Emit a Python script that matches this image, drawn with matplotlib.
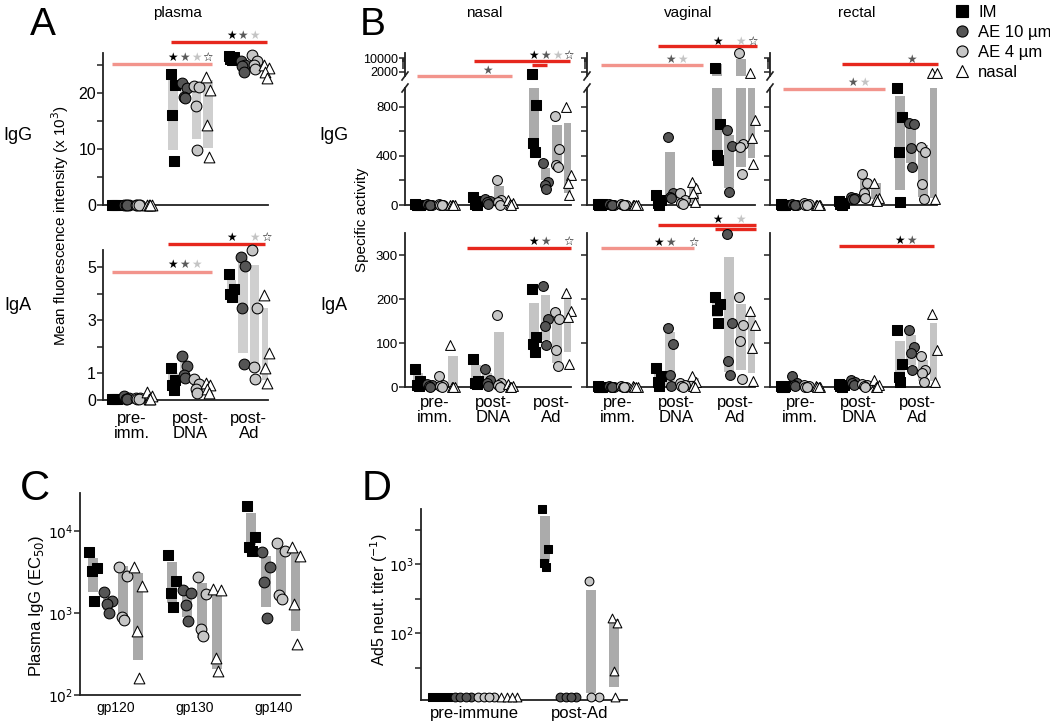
import numpy as np
import matplotlib.pyplot as plt
from matplotlib.patches import Rectangle
from matplotlib.lines import Line2D
from matplotlib.ticker import FixedLocator, NullFormatter

plt.rcParams['font.family'] = ['Liberation Sans', 'DejaVu Sans']

W, H = 1050, 727

# groups (same order in every panel)
groups = ['IM', 'AE 10 µm', 'AE 4 µm', 'nasal']
times = ['pre-\nimm.', 'post-\nDNA', 'post-\nAd']
antigens = ['gp120', 'gp130', 'gp140']
d_times = ['pre-immune', 'post-Ad']

# *_pts: one row per time point, one list of animals per group
# *_bars: (low, high) of the grey bar, None = no bar
# *_sig: (x from, x to, y, kind, time of stars, groups with star, star y)

# ---- A: plasma, mean fluorescence intensity (x 10^3)
a_igg_pts = [
    [[0, 0, 0, 0], [0, 0, 0, 0], [0, 0, 0, 0], [0, 0, 0, 0]],
    [[23.4, 21.4, 16.1, 7.9], [21.8, 20.8, 19.3, 19.0], [21.2, 21.0, 17.7, 9.8], [22.8, 20.5, 14.3, 8.6]],
    [[26.6, 26.3, 26.1, 25.9], [25.6, 25.0, 24.7, 23.8], [26.8, 25.6, 25.0, 24.2], [25.0, 24.4, 23.8, 22.6]],
]
a_igg_bars = [
    [None, None, None, None],
    [(9.8, 22.3), (18.6, 22.0), (11.8, 21.2), (10.2, 22.3)],
    [(25.6, 26.5), (24.2, 25.5), (24.3, 26.3), (23.2, 25.0)],
]
a_igg_sig = [(-0.34, 1.37, 25.2, 'pre', 1, [0, 1, 2, 3], 26.3),
             (0.67, 2.32, 29.1, 'post', 2, [0, 1, 2], 30.3)]

a_iga_pts = [
    [[0.05, 0.05, 0.04, 0.03], [0.15, 0.08, 0.05, 0.03], [0.08, 0.06, 0.05, 0.04], [0.3, 0.15, 0.05, 0.02]],
    [[1.19, 0.75, 0.56, 0.38], [1.65, 1.28, 0.95, 0.82], [0.78, 0.62, 0.40, 0.28], [0.65, 0.58, 0.40, 0.28]],
    [[4.74, 4.16, 3.97, 3.88], [5.36, 5.04, 3.45, 1.34], [5.64, 3.45, 1.25, 0.79], [3.95, 1.78, 1.22, 0.65]],
]
a_iga_bars = [
    [None, None, None, None],
    [(0.5, 1.0), (0.93, 1.47), (0.35, 0.75), (0.35, 0.65)],
    [(3.9, 4.5), (1.77, 5.3), (1.13, 5.07), (0.75, 3.45)],
]
a_iga_sig = [(-0.34, 1.37, 4.83, 'pre', 1, [0, 1, 2], 5.1),
             (0.62, 2.27, 5.88, 'post', 2, [0, 2, 3], 6.12)]

# ---- B: specific activity, IgG
b_nasal_igg_pts = [
    [[8, 4, 2, 0], [5, 3, 2, 0], [6, 4, 2, 0], [3, 1, 0, 0]],
    [[65, 32, 12, 0], [45, 30, 22, 8], [204, 42, 28, 2], [42, 18, 5, 0]],
    [[1600, 816, 503, 435], [340, 190, 165, 128], [727, 455, 327, 310], [803, 245, 182, 82]],
]
b_nasal_igg_bars = [
    [None, None, None, None],
    [(5, 50), (10, 45), (16, 155), None],
    [(530, 960), (205, 300), (320, 655), (100, 667)],
]
b_nasal_igg_sig = [(-0.31, 1.33, 1050, 'pre', 1, [1], 1100),
                   (0.67, 2.33, 1178, 'post', 2, [0, 1, 2, 3], 1224),
                   (1.66, 1.93, 1143, 'post', None, [], None)]

b_vaginal_igg_pts = [
    [[10, 5, 2, 0], [5, 3, 1, 0], [5, 3, 1, 0], [3, 1, 0, 0]],
    [[80, 40, 15, 0], [557, 95, 68, 55], [95, 41, 16, 5], [190, 136, 95, 27]],
    [[3300, 659, 408, 367], [612, 482, 109], [17000, 498, 471, 253], [1850, 694, 544, 332]],
]
b_vaginal_igg_bars = [
    [None, None, None, None],
    [(5, 60), (40, 435), (10, 70), (15, 163)],
    [(381, 5000), (136, 571), (313, 8600), (381, 955)],
]
b_vaginal_igg_sig = [(-0.29, 1.45, 1143, 'pre', 1, [1, 2], 1184),
                     (0.69, 2.38, 1300, 'post', 2, [0, 2, 3], 1339)]

b_rectal_igg_pts = [
    [[8, 4, 2, 0], [5, 3, 2, 0], [15, 5, 2, 0], [2, 0, 0, 0]],
    [[30, 15, 5, 0], [62, 55, 50, 45], [253, 182, 95, 54], [177, 54, 46, 30]],
    [[958, 721, 435, 27], [670, 660, 468, 313], [476, 435, 169, 49], [1750, 1700, 49]],
]
b_rectal_igg_bars = [
    [None, None, None, None],
    [None, None, (54, 210), (46, 177)],
    [(122, 890), (340, 667), (68, 490), (54, 955)],
]
b_rectal_igg_sig = [(-0.29, 1.45, 947, 'pre', 1, [1, 2], 998),
                    (0.71, 2.36, 1149, 'post', 2, [1], 1192)]

# ---- B: specific activity, IgA
b_nasal_iga_pts = [
    [[40, 13, 5, 2], [6, 5, 3, 0], [26, 5, 3, 0], [95, 1, 0, 0]],
    [[63, 14, 9, 6], [40, 15, 9, 3], [164, 9, 5, 1], [6, 3, 1, 0]],
    [[222, 114, 97, 79], [230, 154, 138, 95], [170, 155, 84, 47], [213, 172, 160, 52]],
]
b_nasal_iga_bars = [
    [(0, 31), None, (0, 12), (0, 70)],
    [(0, 49), (0, 31), (0, 126), None],
    [(86, 192), (107, 209), (55, 160), (80, 202)],
]
b_nasal_iga_sig = [(0.55, 2.34, 315, 'post', 2, [0, 1, 3], 330)]

b_vaginal_iga_pts = [
    [[2, 1, 0, 0], [2, 1, 0, 0], [2, 1, 0, 0], [2, 1, 0, 0]],
    [[43, 24, 12, 3], [135, 97, 27, 3], [8, 5, 2, 0], [25, 12, 3, 0]],
    [[205, 188, 175, 146], [347, 145, 60, 27], [205, 142, 105, 18], [172, 140, 88, 13]],
]
b_vaginal_iga_bars = [
    [None, None, None, None],
    [(0, 31), (0, 126), None, (0, 20)],
    [(160, 190), (35, 295), (39, 188), (31, 165)],
]
b_vaginal_iga_sig = [(-0.29, 1.31, 315, 'pre', 1, [0, 1, 3], 329),
                     (0.69, 2.36, 368, 'post', 2, [0, 2], 381),
                     (1.66, 2.36, 360, 'post', None, [], None)]

b_rectal_iga_pts = [
    [[3, 2, 1, 0], [25, 8, 5, 2], [5, 3, 1, 0], [2, 0, 0, 0]],
    [[6, 4, 2, 0], [15, 12, 8, 5], [6, 4, 2, 1], [15, 4, 1, 0]],
    [[130, 52, 22, 12], [130, 92, 78, 38], [71, 39, 32, 11], [165, 84, 11]],
]
b_rectal_iga_bars = [
    [None, None, None, None],
    [None, None, None, None],
    [(12, 105), (50, 118), (13, 61), (13, 145)],
]
b_rectal_iga_sig = [(0.66, 2.29, 321, 'post', 2, [0, 1], 334)]

# ---- C: plasma IgG EC50 per antigen
c_pts = [
    [[5600, 3560, 3250, 1410], [1820, 1410, 1290, 990], [3670, 2850, 900, 820], [3670, 2140, 600, 160]],
    [[5100, 2480, 1740, 1190], [1900, 1740, 1250, 805], [2770, 1700, 630, 530], [1950, 1900, 285, 198]],
    [[20200, 8380, 6450, 5760], [5600, 3600, 2400, 860], [7200, 5700, 1660, 1470], [6300, 4950, 1290, 420]],
]
c_bars = [
    [(1790, 4720), (1090, 1580), (870, 3700), (267, 3050)],
    [(1310, 4230), (900, 1740), (490, 2340), (210, 1740)],
    [(6760, 16400), (1190, 4950), (1440, 6450), (608, 5600)],
]

# ---- D: Ad5 neutralising titer
d_pts = [
    [[12, 12, 12], [12, 12, 12, 12], [12, 12, 12, 12], [12, 12, 12, 12]],
    [[6270, 1650, 1045, 915], [12, 12, 12, 12], [573, 12, 12], [163, 138, 28.5, 12]],
]
d_bars = [
    [None, None, None, None],
    [(1080, 4960), None, (13.4, 420), (16.3, 158)],
]

# ---------------------------------------------------------------- style
markers = ['s', 'o', 'o', '^']
faces = ['black', '#555555', '#c6c6c6', 'white']
star_cols = ['black', '#5a5a5a', '#c4c4c4', 'black']
sig_colors = {'pre': '#f2948c', 'post': '#e6271d'}
jit = {1: [0], 2: [-1, 1], 3: [-1, 1, 0], 4: [-1, 1, -0.33, 0.33]}

fig = plt.figure(figsize=(W / 100, H / 100), dpi=100)


def add_ax(l, t, r, b):
    return fig.add_axes([l / W, 1 - b / H, (r - l) / W, (b - t) / H])


def style(ax, size):
    for s in ['top', 'right']:
        ax.spines[s].set_visible(False)
    for s in ['left', 'bottom']:
        ax.spines[s].set_linewidth(1.3)
        ax.spines[s].set_color('#222222')
    ax.tick_params(axis='y', which='both', direction='out', length=4, width=1.1,
                   labelsize=size, pad=1, color='#222222')
    ax.tick_params(axis='x', length=0, labelsize=size, pad=6)
    ax.patch.set_alpha(0)


def draw_points(ax, pts, offs, spread, size, keep=None, tie_spread=None):
    for t, row in enumerate(pts):
        for g, vals in enumerate(row):
            v = np.asarray(vals, float)
            pat = np.array(jit[len(v)], float)
            if tie_spread is None:
                dx = pat * spread
            else:
                tied = np.array([np.sum(v == a) > 1 for a in v])
                dx = pat * np.where(tied, tie_spread, spread)
            x = t + offs[g] + dx
            if keep is not None:
                m = keep(v)
                x, v = x[m], v[m]
            if len(v) == 0:
                continue
            ax.scatter(x, v, marker=markers[g], s=size, facecolor=faces[g],
                       edgecolor='black', linewidth=0.75, zorder=3, clip_on=False)


def draw_bars(ax, bars, offs, width, color, floor=None):
    for t, row in enumerate(bars):
        for g, b in enumerate(row):
            if b is None:
                continue
            lo, hi = b
            if floor is not None:
                if hi <= floor:
                    continue
                lo = max(lo, floor)
            ax.add_patch(Rectangle((t + offs[g] - width / 2, lo), width, hi - lo,
                                   facecolor=color, edgecolor='none', zorder=1))


def draw_sig(ax, sig, offs):
    for x0, x1, y, kind, t, gs, ys in sig:
        ax.plot([x0, x1], [y, y], color=sig_colors[kind], lw=2.4,
                solid_capstyle='butt', clip_on=False, zorder=2)
        for g in gs:
            sym = '☆' if g == 3 else '★'
            ax.text(t + offs[g], ys, sym, color=star_cols[g], fontsize=8.5,
                    ha='center', va='center', clip_on=False, family='DejaVu Sans')


offs = [-0.3, -0.1, 0.1, 0.3]

# ---------------------------------------------------------------- panel A
ax = add_ax(103, 53, 268, 205)
style(ax, 11.5)
draw_bars(ax, a_igg_bars, offs, 0.16, '#cfcfcf')
draw_points(ax, a_igg_pts, offs, 0.04, 60)
draw_sig(ax, a_igg_sig, offs)
ax.set_xlim(-0.5, 2.33)
ax.set_ylim(0, 27.1)
ax.set_yticks([0, 5, 10, 15, 20, 25])
ax.set_yticklabels(['0', '', '10', '', '20', ''])
ax.set_xticks([])

ax = add_ax(103, 250, 268, 400)
style(ax, 11.5)
draw_bars(ax, a_iga_bars, offs, 0.16, '#cfcfcf')
draw_points(ax, a_iga_pts, offs, 0.04, 60)
draw_sig(ax, a_iga_sig, offs)
ax.set_xlim(-0.5, 2.33)
ax.set_ylim(0, 5.64)
ax.set_yticks([0, 1, 2, 3, 4, 5])
ax.set_yticklabels(['0', '1', '', '3', '', '5'])
ax.set_xticks([0, 1, 2])
ax.set_xticklabels(times, fontsize=12, linespacing=1.0)
ax.tick_params(axis='x', pad=8)

# ---------------------------------------------------------------- panel B
b_cols = [
    (405, 571, b_nasal_igg_pts, b_nasal_igg_bars, b_nasal_igg_sig,
     b_nasal_iga_pts, b_nasal_iga_bars, b_nasal_iga_sig),
    (587, 755, b_vaginal_igg_pts, b_vaginal_igg_bars, b_vaginal_igg_sig,
     b_vaginal_iga_pts, b_vaginal_iga_bars, b_vaginal_iga_sig),
    (770, 937, b_rectal_igg_pts, b_rectal_igg_bars, b_rectal_igg_sig,
     b_rectal_iga_pts, b_rectal_iga_bars, b_rectal_iga_sig),
]
up_lo, up_hi = 1262, 17780
for i, (l, r, gp, gb, gs, ap, ab, asig) in enumerate(b_cols):
    first = i == 0
    # IgG, linear part
    ax = add_ax(l, 88, r, 205)
    style(ax, 9.5)
    draw_bars(ax, gb, offs, 0.17, '#ababab')
    draw_points(ax, gp, offs, 0.04, 50, keep=lambda v: v < 1000)
    draw_sig(ax, gs, offs)
    ax.set_xlim(-0.52, 2.34)
    ax.set_ylim(0, 955)
    ax.set_yticks([0, 200, 400, 600, 800])
    ax.set_yticklabels(['0', '', '400', '', '800'] if first else [])
    ax.set_xticks([])
    # IgG, log part above the break
    up = add_ax(l, 53, r, 76)
    style(up, 9.5)
    up.spines['bottom'].set_visible(False)
    up.set_yscale('log')
    up.set_ylim(up_lo, up_hi)
    up.set_xlim(-0.52, 2.34)
    draw_bars(up, gb, offs, 0.17, '#ababab', floor=up_lo)
    draw_points(up, gp, offs, 0.04, 50, keep=lambda v: v >= 1000)
    up.yaxis.set_major_locator(FixedLocator([2000, 10000]))
    up.yaxis.set_minor_locator(FixedLocator([3000, 4000, 5000, 6000, 7000, 8000, 9000]))
    up.yaxis.set_minor_formatter(NullFormatter())
    up.set_yticklabels(['2000', '10000'] if first else ['', ''])
    up.tick_params(axis='y', which='minor', length=2.5)
    up.tick_params(axis='y', which='major', labelsize=9, pad=1)
    up.set_xticks([])
    # break marks
    for yb in (76, 88):
        fig.add_artist(Line2D([(l - 3) / W, (l + 3) / W], [1 - (yb + 4) / H, 1 - (yb - 4) / H],
                              color='#222222', lw=1.2, transform=fig.transFigure))
    # IgA
    ax = add_ax(l, 233, r, 387)
    style(ax, 9.5)
    draw_bars(ax, ab, offs, 0.17, '#c4c4c4')
    draw_points(ax, ap, offs, 0.04, 50)
    draw_sig(ax, asig, offs)
    ax.set_xlim(-0.52, 2.34)
    ax.set_ylim(0, 350)
    ax.set_yticks([0, 100, 200, 300])
    ax.set_yticklabels(['0', '100', '200', '300'] if first else [])
    ax.set_xticks([0, 1, 2])
    ax.set_xticklabels(times, fontsize=12, linespacing=1.0)

# ---------------------------------------------------------------- panel C
c_offs = [-0.285, -0.095, 0.095, 0.285]
ax = add_ax(80, 493, 300, 695)
style(ax, 10)
ax.set_yscale('log')
ax.set_ylim(100, 29000)
ax.set_xlim(-0.45, 2.34)
draw_bars(ax, c_bars, c_offs, 0.13, '#a9a9a9')
draw_points(ax, c_pts, c_offs, 0.05, 60)
ax.yaxis.set_major_locator(FixedLocator([100, 1000, 10000]))
ax.yaxis.set_minor_locator(FixedLocator([]))
ax.set_yticklabels(['$10^2$', '$10^3$', '$10^4$'])
ax.set_xticks([0, 1, 2])
ax.set_xticklabels(antigens, fontsize=10)
ax.tick_params(axis='x', pad=4)

# ---------------------------------------------------------------- panel D
d_offs = [-0.33, -0.11, 0.11, 0.33]
ax = add_ax(421, 509, 627, 700)
style(ax, 10)
ax.set_yscale('log')
ax.set_ylim(10.7, 6300)
ax.set_xlim(-0.51, 1.45)
draw_bars(ax, d_bars, d_offs, 0.095, '#ababab')
draw_points(ax, d_pts, d_offs, 0.025, 40, tie_spread=0.075)
ax.yaxis.set_major_locator(FixedLocator([100, 1000]))
ax.yaxis.set_minor_locator(FixedLocator([10 ** 1.5, 10 ** 2.5, 10 ** 3.5]))
ax.yaxis.set_minor_formatter(NullFormatter())
ax.set_yticklabels(['$10^2$', '$10^3$'])
ax.set_xticks([0, 1])
ax.set_xticklabels(d_times, fontsize=12)
ax.tick_params(axis='x', pad=4)

# ---------------------------------------------------------------- text
def ftext(x, y, s, **kw):
    fig.text(x / W, 1 - y / H, s, **kw)


ftext(43, 35, 'A', fontsize=28, ha='center', va='baseline')
ftext(373, 35, 'B', fontsize=28, ha='center', va='baseline')
ftext(35, 500, 'C', fontsize=30, ha='center', va='baseline')
ftext(377, 500, 'D', fontsize=30, ha='center', va='baseline')

ftext(177, 13, 'plasma', fontsize=11, ha='center', va='center')
ftext(484, 13, 'nasal', fontsize=11, ha='center', va='center')
ftext(688, 13, 'vaginal', fontsize=11, ha='center', va='center')
ftext(857, 13, 'rectal', fontsize=11, ha='center', va='center')

ftext(18, 135, 'IgG', fontsize=13, ha='center', va='center')
ftext(18, 305, 'IgA', fontsize=13, ha='center', va='center')
ftext(334, 135, 'IgG', fontsize=13, ha='center', va='center')
ftext(334, 305, 'IgA', fontsize=13, ha='center', va='center')

ftext(60, 226, 'Mean fluorescence intensity (x 10$^3$)', fontsize=11,
      rotation=90, ha='center', va='center')
ftext(362, 220, 'Specific activity', fontsize=11, rotation=90, ha='center', va='center')
ftext(36, 606, 'Plasma IgG (EC$_{50}$)', fontsize=12, rotation=90, ha='center', va='center')
ftext(379, 600, 'Ad5 neut. titer ($^{-1}$)', fontsize=11.5, rotation=90, ha='center', va='center')

# legend
handles = [Line2D([], [], marker=markers[g], ls='none', markersize=8,
                  markerfacecolor=faces[g], markeredgecolor='black', markeredgewidth=0.8)
           for g in range(4)]
fig.legend(handles, groups, loc='upper left', bbox_to_anchor=(954 / W, 1 - 5 / H),
           frameon=False, fontsize=12, handlelength=1.0, handletextpad=0.45,
           labelspacing=0.3, borderpad=0, borderaxespad=0)

fig.savefig('out.png', dpi=100)
